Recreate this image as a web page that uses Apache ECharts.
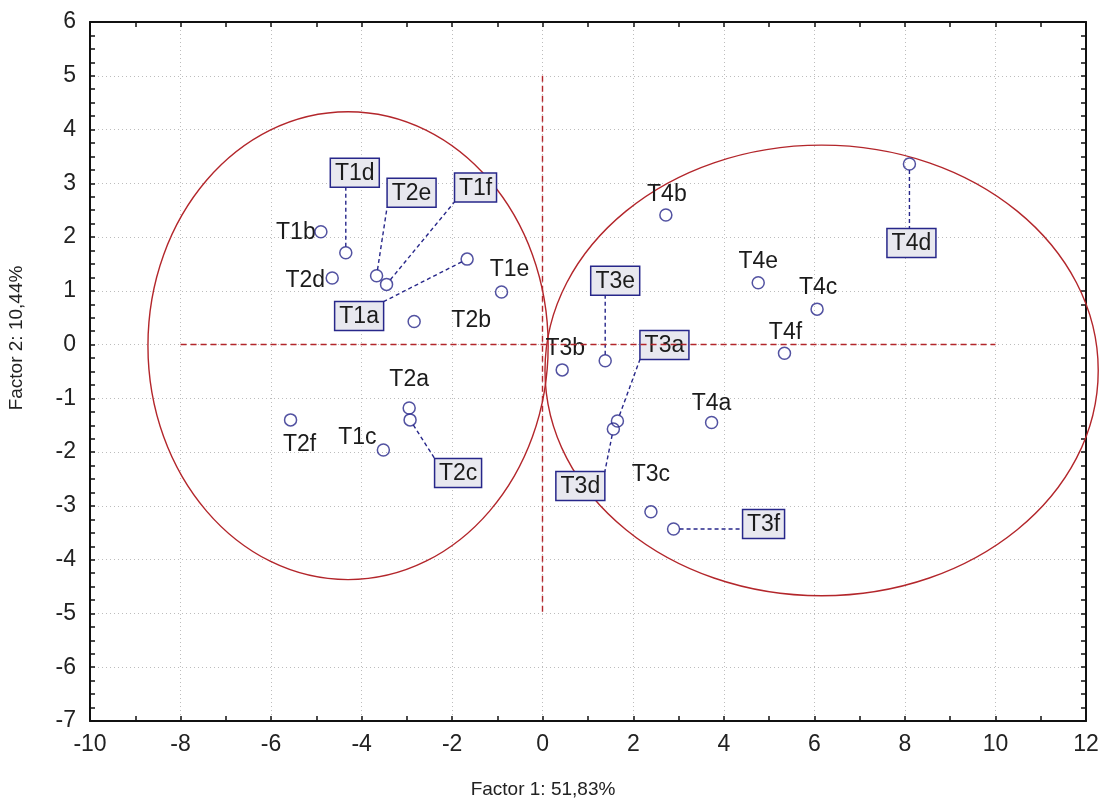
<!DOCTYPE html>
<html>
<head>
<meta charset="utf-8">
<script src="https://cdn.jsdelivr.net/npm/echarts@6/dist/echarts.min.js"></script>
<style>
  html, body { margin: 0; padding: 0; background: #fff; }
  #chart { width: 1103px; height: 806px; }
</style>
</head>
<body>
<div id="chart"></div>
<script>
// Factor scores of the samples on the first two factors
const names = ['T1a','T1b','T1c','T1d','T1e','T1f',
               'T2a','T2b','T2c','T2d','T2e','T2f',
               'T3a','T3b','T3c','T3d','T3e','T3f',
               'T4a','T4b','T4c','T4d','T4e','T4f'];
const factor1 = [-1.67, -4.90, -3.52, -4.35, -0.91, -3.45,
                 -2.95, -2.84, -2.93, -4.65, -3.67, -5.57,
                  1.65,  0.43,  2.39,  1.56,  1.38,  2.89,
                  3.73,  2.72,  6.06,  8.10,  4.76,  5.34];
const factor2 = [ 1.59,  2.10, -1.96,  1.71,  0.98,  1.12,
                 -1.18,  0.43, -1.40,  1.24,  1.28, -1.40,
                 -1.42, -0.47, -3.11, -1.57, -0.30, -3.43,
                 -1.45,  2.41,  0.66,  3.36,  1.15, -0.16];

// Group outlines: centre x, centre y, half-width, half-height (factor units)
const groupCentreX = [-4.30, 6.16];
const groupCentreY = [-0.02, -0.48];
const groupHalfX = [4.42, 6.11];
const groupHalfY = [4.35, 4.19];

// Axis ranges and tick steps
const xRange = [-10, 12];
const yRange = [-7, 6];
const xStep = 2;
const yStep = 1;

// Label placement (pixel offset of the label centre from its point)
const labelPlacement = {
  T1a: { dx: -108, dy: 57, box: true },
  T1b: { dx: -25, dy: 0 },
  T1c: { dx: -26, dy: -13 },
  T1d: { dx: 9, dy: -80, box: true },
  T1e: { dx: 8, dy: -23 },
  T1f: { dx: 89, dy: -97, box: true },
  T2a: { dx: 0, dy: -29 },
  T2b: { dx: 57, dy: -2 },
  T2c: { dx: 48, dy: 53, box: true },
  T2d: { dx: -27, dy: 2 },
  T2e: { dx: 35, dy: -83, box: true },
  T2f: { dx: 9, dy: 24 },
  T3a: { dx: 47, dy: -76, box: true },
  T3b: { dx: 3, dy: -22 },
  T3c: { dx: 0, dy: -38 },
  T3d: { dx: -33, dy: 57, box: true },
  T3e: { dx: 10, dy: -80, box: true },
  T3f: { dx: 90, dy: -5, box: true },
  T4a: { dx: 0, dy: -20 },
  T4b: { dx: 1, dy: -21 },
  T4c: { dx: 1, dy: -22 },
  T4d: { dx: 2, dy: 79, box: true },
  T4e: { dx: 0, dy: -22 },
  T4f: { dx: 1, dy: -22 }
};

const FONT = '"Liberation Sans", Arial, sans-serif';
const labelFont = '23px ' + FONT;
const navy = '#27278a';
const red = '#b3262b';
const gridGray = '#bdbdbd';

const measureCtx = document.createElement('canvas').getContext('2d');
measureCtx.font = labelFont;

const points = names.map((n, i) => [factor1[i], factor2[i]]);
const groups = groupCentreX.map((c, i) => [c, groupCentreY[i], groupHalfX[i], groupHalfY[i]]);

const chart = echarts.init(document.getElementById('chart'), null, { renderer: 'canvas' });

function makeXAxis(pos, showLabels) {
  return {
    type: 'value', position: pos, min: xRange[0], max: xRange[1], interval: xStep,
    axisLine: { show: true, onZero: false, lineStyle: { color: '#111', width: 2 } },
    axisTick: { show: true, inside: true, length: 5, lineStyle: { color: '#111', width: 1.5 } },
    minorTick: { show: true, splitNumber: 2, length: 5, lineStyle: { color: '#111', width: 1.5 } },
    axisLabel: { show: showLabels, margin: 12, color: '#222', fontSize: 23, fontFamily: FONT },
    splitLine: { show: showLabels, lineStyle: { color: gridGray, type: [1, 3], width: 1 } },
    minorSplitLine: { show: false }
  };
}
function makeYAxis(pos, showLabels) {
  return {
    type: 'value', position: pos, min: yRange[0], max: yRange[1], interval: yStep,
    axisLine: { show: true, onZero: false, lineStyle: { color: '#111', width: 2 } },
    axisTick: { show: true, inside: true, length: 5, lineStyle: { color: '#111', width: 1.5 } },
    minorTick: { show: true, splitNumber: 4, length: 5, lineStyle: { color: '#111', width: 1.5 } },
    axisLabel: { show: showLabels, margin: 14, color: '#222', fontSize: 23, fontFamily: FONT },
    splitLine: { show: showLabels, lineStyle: { color: gridGray, type: [1, 3], width: 1 } },
    minorSplitLine: { show: false }
  };
}

function renderGroup(params, api) {
  const c = api.coord([api.value(0), api.value(1)]);
  const s = api.size([api.value(2), api.value(3)]);
  return {
    type: 'ellipse',
    shape: { cx: c[0], cy: c[1], rx: s[0], ry: s[1] },
    style: { fill: null, stroke: red, lineWidth: 1.4 },
    silent: true
  };
}

function renderLabel(params, api) {
  const i = params.dataIndex;
  const name = names[i];
  const lay = labelPlacement[name];
  const p = api.coord([api.value(0), api.value(1)]);
  const cx = p[0] + lay.dx;
  const cy = p[1] + lay.dy;
  const children = [];
  if (lay.box) {
    const w = Math.round(measureCtx.measureText(name).width + 9);
    const h = 29;
    const x0 = cx - w / 2, y0 = cy - h / 2;
    const ex = Math.min(Math.max(p[0], x0), x0 + w);
    const ey = Math.min(Math.max(p[1], y0), y0 + h);
    const len = Math.hypot(ex - p[0], ey - p[1]) || 1;
    const r = 6;
    children.push({
      type: 'line',
      shape: { x1: p[0] + (ex - p[0]) * r / len, y1: p[1] + (ey - p[1]) * r / len, x2: ex, y2: ey },
      style: { stroke: navy, lineWidth: 1.4, lineDash: [4, 3] }
    });
    children.push({
      type: 'rect',
      shape: { x: x0, y: y0, width: w, height: h },
      style: { fill: '#e8e8ef', stroke: navy, lineWidth: 1.5 }
    });
  }
  children.push({
    type: 'text',
    style: { text: name, x: cx, y: cy + 1, align: 'center', verticalAlign: 'middle', font: labelFont, fill: '#1b1b1b' }
  });
  return { type: 'group', children, silent: true };
}

chart.setOption({
  animation: false,
  backgroundColor: '#ffffff',
  grid: { left: 90, right: 17, top: 22, bottom: 85, containLabel: false },
  xAxis: [makeXAxis('bottom', true), makeXAxis('top', false)],
  yAxis: [makeYAxis('left', true), makeYAxis('right', false)],
  graphic: [
    {
      type: 'text', left: 'center', x: 0,
      style: { text: 'Factor 1: 51,83%', x: 543, y: 790, align: 'center', verticalAlign: 'middle', font: '19px ' + FONT, fill: '#222' },
      left: null
    },
    {
      type: 'text', x: 17, y: 338, rotation: Math.PI / 2,
      style: { text: 'Factor 2: 10,44%', x: 0, y: 0, align: 'center', verticalAlign: 'middle', font: '19px ' + FONT, fill: '#222' }
    }
  ],
  series: [
    {
      type: 'custom', name: 'groups', data: groups, renderItem: renderGroup,
      clip: false, silent: true, z: 2,
      encode: { x: 0, y: 1 }
    },
    {
      type: 'custom', name: 'labels', data: points, renderItem: renderLabel,
      clip: false, silent: true, z: 3,
      encode: { x: 0, y: 1 }
    },
    {
      type: 'scatter', name: 'scores', data: points, z: 4,
      symbol: 'circle', symbolSize: 12,
      itemStyle: { color: 'rgba(255,255,255,0)', borderColor: navy, borderWidth: 1.5 },
      markLine: {
        silent: true, symbol: 'none', animation: false,
        label: { show: false },
        lineStyle: { color: red, type: [6, 4], width: 1.4 },
        data: [
          [{ coord: [-8, 0] }, { coord: [10, 0] }],
          [{ coord: [0, 5] }, { coord: [0, -5] }]
        ]
      }
    }
  ]
});
</script>
</body>
</html>
